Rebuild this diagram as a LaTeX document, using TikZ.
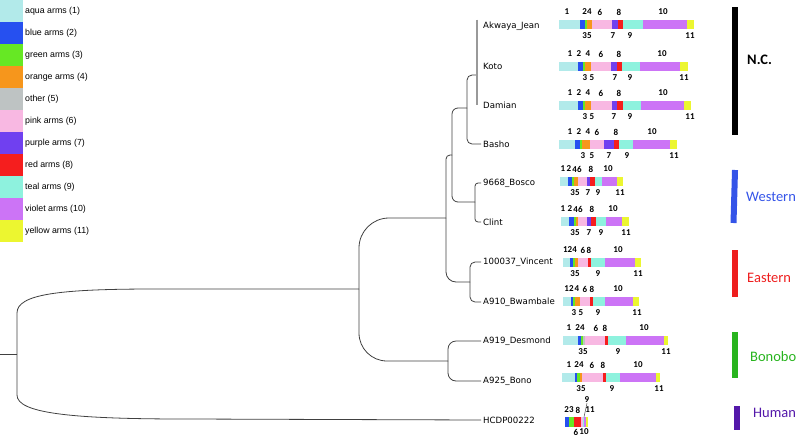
\documentclass[tikz,border=0pt]{standalone}
\usepackage{fontspec}
\setmainfont{Liberation Sans}
\newfontfamily\leaffont{DejaVu Sans}
\newfontfamily\groupfont{Carlito}
\usetikzlibrary{positioning}

\definecolor{aquaarm}{RGB}{178,234,234}
\definecolor{bluearm}{RGB}{38,80,240}
\definecolor{greenarm}{RGB}{102,232,36}
\definecolor{orangearm}{RGB}{246,150,28}
\definecolor{otherarm}{RGB}{190,195,195}
\definecolor{pinkarm}{RGB}{248,184,226}
\definecolor{purplearm}{RGB}{112,64,240}
\definecolor{redarm}{RGB}{245,30,30}
\definecolor{tealarm}{RGB}{142,242,222}
\definecolor{violetarm}{RGB}{204,116,246}
\definecolor{yellowarm}{RGB}{236,246,48}
\definecolor{westblue}{RGB}{52,84,232}
\definecolor{eastred}{RGB}{238,30,30}
\definecolor{bonogreen}{RGB}{40,180,30}
\definecolor{humanpurple}{RGB}{84,24,170}

% one row of arm blocks: name, y, blocks, numbers above, numbers below
\newcommand{\armrow}[5]{%
  \foreach \xa/\xb/\col in {#3} \fill[\col] (\xa,#2-4.5) rectangle (\xb,#2+4.5);
  \foreach \x/\lab [count=\i] in {#4} \node[armnum] (#1-up\i) at (\x,#2-12) {\lab};
  \foreach \x/\lab [count=\i] in {#5} \node[armnum] (#1-dn\i) at (\x,#2+12) {\lab};
}

\begin{document}
\begin{tikzpicture}[
    x=1pt, y=-1pt,
    branch/.style={draw=black!75, line width=0.8pt, rounded corners=#1},
    branch/.default=5,
    polytomy/.style={draw=black!40, line width=1.6pt},
    leaf/.style={anchor=west, inner sep=2pt, font=\leaffont\fontsize{8.6}{10}\selectfont},
    key/.style={anchor=west, inner sep=0pt, font=\fontsize{8.8}{10}\selectfont},
    armnum/.style={inner sep=0pt, font=\groupfont\bfseries\fontsize{9}{10}\selectfont},
    groupbar/.style={line width=6pt},
    group/.style={anchor=west, inner sep=0pt, font=\groupfont\fontsize{14.5}{16}\selectfont}
]
\useasboundingbox (0,0) rectangle (800,437);

% legend
\foreach \col/\lab [count=\i] in {aquaarm/aqua arms (1), bluearm/blue arms (2),
    greenarm/green arms (3), orangearm/orange arms (4), otherarm/other (5),
    pinkarm/pink arms (6), purplearm/purple arms (7), redarm/red arms (8),
    tealarm/teal arms (9), violetarm/violet arms (10), yellowarm/yellow arms (11)}{
  \fill[\col] (0,22*\i-22) rectangle (22.5,22*\i);
  \node[key] (key\i) at (25,22*\i-11) {\lab};
}

% tree
\coordinate (root) at (0,354);
\coordinate (n0) at (17,354);
\coordinate (n1) at (359,289);
\coordinate (n2) at (446,218);
\coordinate (n3) at (452,155);
\coordinate (n4) at (467,108);
\coordinate (n5) at (475,202);
\coordinate (n6) at (470,282);
\coordinate (n7) at (448,361);
\coordinate (poly) at (477,75);

\node[leaf] (akwaya) at (481,26) {Akwaya\_Jean};
\node[leaf] (koto) at (481,66) {Koto};
\node[leaf] (damian) at (481,105) {Damian};
\node[leaf] (basho) at (481,144) {Basho};
\node[leaf] (bosco) at (481,183) {9668\_Bosco};
\node[leaf] (clint) at (481,222) {Clint};
\node[leaf] (vincent) at (481,262) {100037\_Vincent};
\node[leaf] (bwambale) at (481,302) {A910\_Bwambale};
\node[leaf] (desmond) at (481,341) {A919\_Desmond};
\node[leaf] (bono) at (481,381) {A925\_Bono};
\node[leaf] (hcdp) at (481,420) {HCDP00222};

\draw[branch] (root) -- (n0);
\draw[branch] (n0) -- (17,318) .. controls (17,294) and (60,289) .. (160,289) -- (n1);
\draw[branch] (n0) -- (17,390) .. controls (17,413) and (70,419) .. (190,419) -- (hcdp.west);
\draw[branch=30] (n1) |- (n2);
\draw[branch=28] (n1) |- (n7);
\draw[branch=4] (n2) |- (n3);
\draw[branch=10] (n2) |- (n6);
\draw[branch=6] (n3) |- (n4);
\draw[branch=6] (n3) |- (n5);
\draw[branch=5] (n4) |- (poly);
\draw[branch=5] (n4) |- (basho.west);
\draw[branch=3] (n5) |- (bosco.west);
\draw[branch=3] (n5) |- (clint.west);
\draw[branch=5] (n6) |- (vincent.west);
\draw[branch=5] (n6) |- (bwambale.west);
\draw[branch=8] (n7) |- (desmond.west);
\draw[branch=8] (n7) |- (bono.west);
\draw[polytomy] (poly |- akwaya.north) -- (poly |- damian.center);

% arm blocks
\armrow{akwaya}{24}{559/580/aquaarm, 580/585/bluearm, 585/587/greenarm, 587/592/orangearm,
  592/612/pinkarm, 612/618/purplearm, 618/623/redarm, 623/643/tealarm, 643/687/violetarm,
  687/694/yellowarm}{567/1, 587/24, 600/6, 619/8, 663/10}{587/35, 613/7, 630/9, 690/11}
\armrow{koto}{66}{559/578/aquaarm, 578/583/bluearm, 583/585/greenarm, 585/591/orangearm,
  591/611/pinkarm, 611/617/purplearm, 617/622/redarm, 622/640/tealarm, 640/680/violetarm,
  680/688/yellowarm}{570/1, 579/2, 588/4, 601/6, 619/8, 662/10}{585/3, 592/5, 615/7, 630/9, 684/11}
\armrow{damian}{105}{559/578/aquaarm, 578/583/bluearm, 583/585/greenarm, 585/591/orangearm,
  591/612/pinkarm, 612/617/purplearm, 617/623/redarm, 623/641/tealarm, 641/684/violetarm,
  684/691/yellowarm}{570/1, 579/2, 588/4, 601/6, 619/8, 663/10}{585/3, 592/5, 614/7, 630/9, 690/11}
\armrow{basho}{144}{559/575/aquaarm, 575/580/bluearm, 580/582/greenarm, 582/590/orangearm,
  590/604/pinkarm, 604/614/purplearm, 614/619/redarm, 619/633/tealarm, 633/670/violetarm,
  670/677/yellowarm}{570/1, 579/2, 588/4, 597/6, 616/8, 652/10}{583/3, 592/5, 609/7, 627/9, 674/11}
\armrow{bosco}{181}{560/568/aquaarm, 568/572/bluearm, 572/574/greenarm, 574/578/orangearm,
  578/587/pinkarm, 587/590/purplearm, 590/595/redarm, 595/602/tealarm, 602/617/violetarm,
  617/623/yellowarm}{563/1, 569/2, 577/46, 591/8, 608/10}{575/35, 588/7, 598/9, 620/11}
\armrow{clint}{221}{561/569/aquaarm, 569/574/bluearm, 574/575.5/greenarm, 575.5/578/orangearm,
  578/587/pinkarm, 587/591/purplearm, 591/596/redarm, 596/606/tealarm, 606/622/violetarm,
  622/629/yellowarm}{563/1, 570/2, 578/46, 592/8, 613/10}{575/35, 589/7, 601/9, 626/11}
\armrow{vincent}{262}{563/570/aquaarm, 570/573/bluearm, 573/574.5/greenarm, 574.5/578/orangearm,
  578/588/pinkarm, 588/591/redarm, 591/605/tealarm, 605/635/violetarm,
  635/641/yellowarm}{570/124, 583/6, 589/8, 618/10}{575/35, 598/9, 638/11}
\armrow{bwambale}{301}{563/571/aquaarm, 571/573/bluearm, 573/575/greenarm, 575/580/orangearm,
  580/590/pinkarm, 590/593/redarm, 593/605/tealarm, 605/633/violetarm,
  633/639/yellowarm}{569/12, 577/4, 585/6, 592/8, 618/10}{574/3, 581/5, 598/9, 637/11}
\armrow{desmond}{340}{563/578/aquaarm, 578/581/bluearm, 581/583/greenarm, 583/585/otherarm,
  585/605/pinkarm, 605/608/redarm, 608/626/tealarm, 626/664/violetarm,
  664/668/yellowarm}{569/1, 580/24, 596/6, 605/8, 644/10}{583/35, 618/9, 666/11}
\armrow{bono}{377}{562/575/aquaarm, 575/577/bluearm, 577/580/greenarm, 580/582/orangearm,
  582/603/pinkarm, 603/606/redarm, 606/620/tealarm, 620/656/violetarm,
  656/660/yellowarm}{569/1, 579/24, 592/6, 603/8, 638/10}{581/35, 612/9, 659/11}

% human row sits at the bottom edge, so its lower numbers come closer
\foreach \xa/\xb/\col in {565/569/bluearm, 569/574/greenarm, 574/581/redarm, 581/583/pinkarm,
    583/584/tealarm, 584/585.5/violetarm, 585.5/588/yellowarm}
  \fill[\col] (\xa,417) rectangle (\xb,426.5);
\foreach \x/\lab [count=\i] in {569/23, 578/8, 590/11}
  \node[armnum] (hcdp-up\i) at (\x,410) {\lab};
\foreach \x/\lab [count=\i] in {576/6, 584/10}
  \node[armnum] (hcdp-dn\i) at (\x,432) {\lab};
\node[armnum] (hcdp-nine) at (587,400) {9};
\draw[black!70, line width=0.5pt] (hcdp-nine.south) -- (584,417);

% groups
\draw[groupbar, black] (734.5,7) -- (734.5,135);
\draw[groupbar, westblue] (735,170) -- (733.5,223);
\draw[groupbar, eastred] (734.5,250) -- (734.5,297);
\draw[groupbar, bonogreen] (735,332) -- (735,378);
\draw[groupbar, humanpurple] (737,406) -- (737,430);
\node[group, font=\groupfont\bfseries\fontsize{14.5}{16}\selectfont] (nc) at (747,60) {N.C.};
\node[group, text=westblue] (western) at (746,197) {Western};
\node[group, text=eastred] (eastern) at (747,278) {Eastern};
\node[group, text=bonogreen] (bonobo) at (750,357) {Bonobo};
\node[group, text=humanpurple] (human) at (753,413) {Human};
\end{tikzpicture}
\end{document}
